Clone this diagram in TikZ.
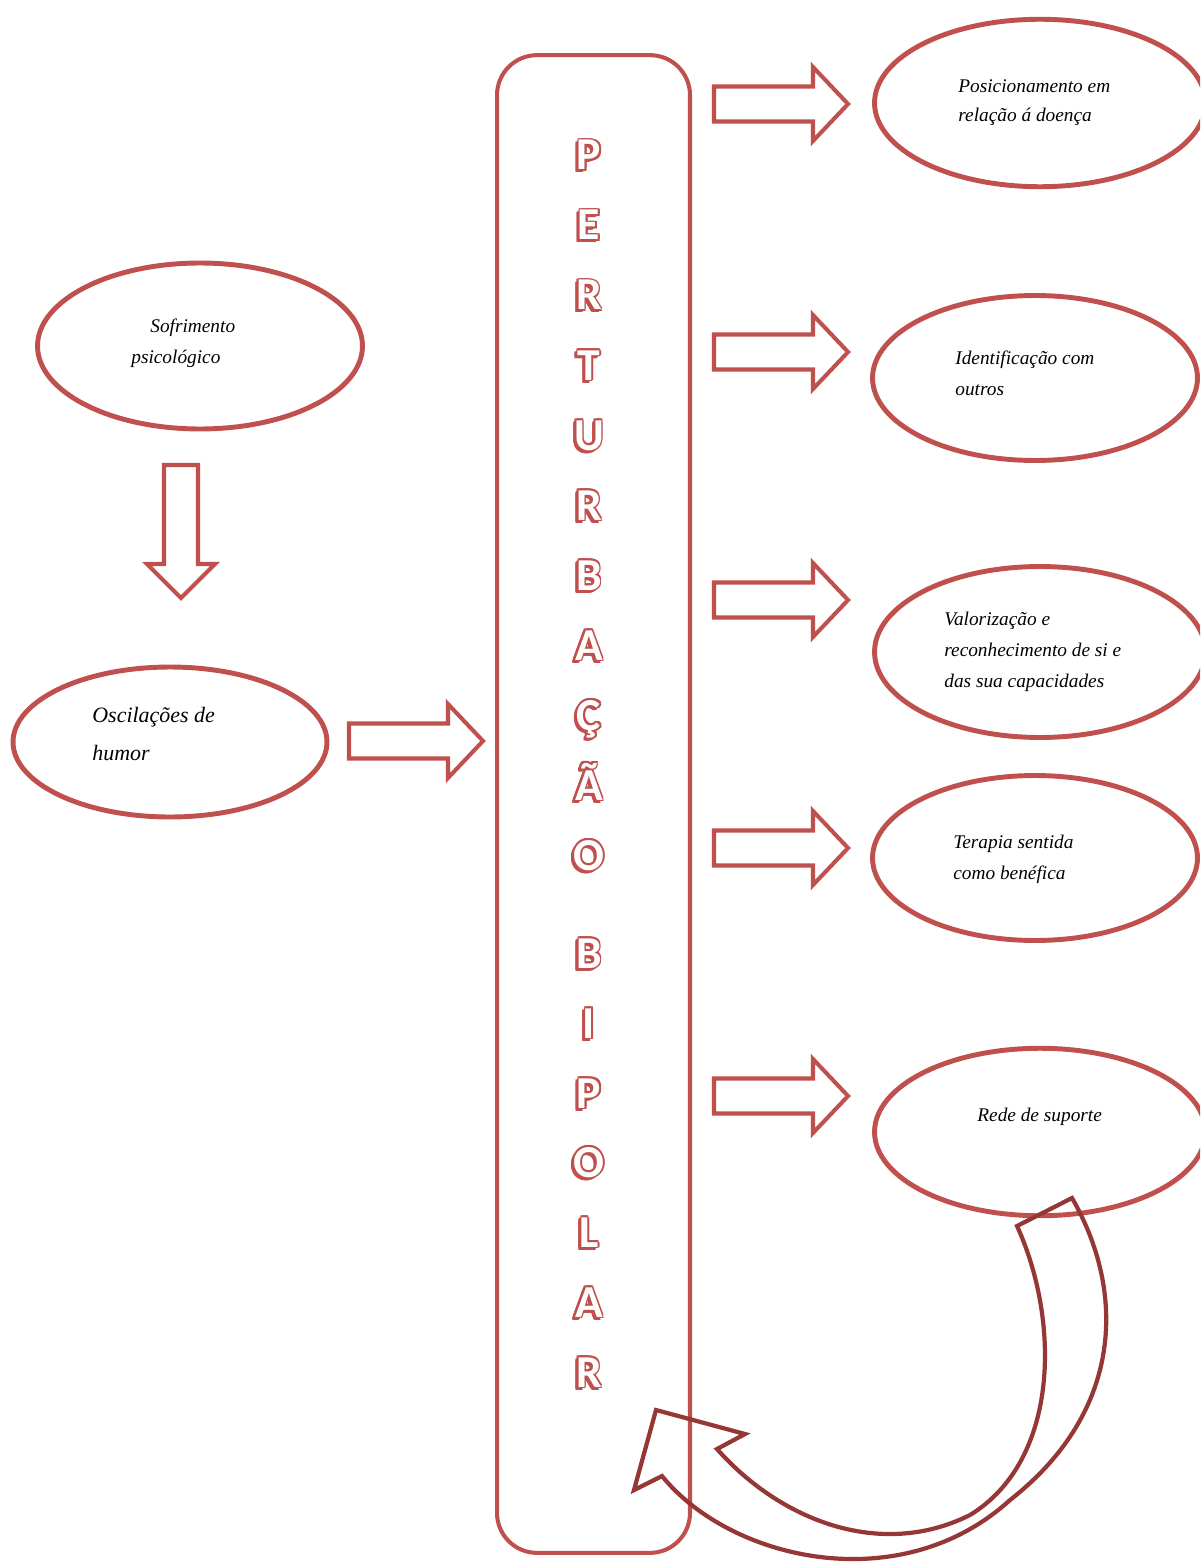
\documentclass[tikz,border=0pt]{standalone}
\usepackage{fontspec}
\setmainfont{Liberation Serif}
\newfontfamily\letfont{Carlito}
\usetikzlibrary{shapes.geometric}
\definecolor{rd}{HTML}{C0504D}
\definecolor{drd}{HTML}{953735}
\newcommand\rarrow[3]{%
  \draw[blk] (#1,#3-17.5) -- (#2-35,#3-17.5) -- (#2-35,#3-37) -- (#2,#3) -- (#2-35,#3+37) -- (#2-35,#3+17.5) -- (#1,#3+17.5) -- cycle;}
\newcommand\olet[3]{%
  \foreach \dx/\dy in {-1.7/0,1.7/0,0/-1.7,0/1.7,-1.2/-1.2,1.2/-1.2,-1.2/1.2,1.2/1.2,-2.7/2.7,-1.9/3,-3/1.9,-2.3/2.3,-3/3}
    {\node[lett,text=rd] at (589+\dx,#2+\dy) {#3};}
  \node[lett,text=white] (#1) at (589,#2) {#3};}
\begin{document}
\begin{tikzpicture}[x=0.02cm,y=-0.02cm,
  oval/.style={ellipse, draw=rd, line width=2.8pt, inner sep=0pt},
  blk/.style={draw=rd, line width=2.3pt, line join=miter},
  lbl/.style={anchor=base west, inner sep=0pt, font=\fontsize{11}{13}\selectfont\itshape},
  lett/.style={inner sep=0pt, anchor=base, font=\letfont\bfseries\fontsize{26}{30}\selectfont}]
\fill[white] (0,0) rectangle (1200,1564);
\useasboundingbox (0,0) rectangle (1200,1564);
\clip (0,0) rectangle (1200,1564);

% ellipses
\node[oval, minimum width=6.62cm, minimum height=3.35cm] (e1) at (1040,103) {};
\node[oval, minimum width=6.5cm, minimum height=3.3cm] (e2) at (1035,378) {};
\node[oval, minimum width=6.62cm, minimum height=3.42cm] (e3) at (1040,652) {};
\node[oval, minimum width=6.5cm, minimum height=3.3cm] (e4) at (1035,858) {};
\node[oval, minimum width=6.62cm, minimum height=3.35cm] (e5) at (1040,1132) {};
\node[oval, minimum width=6.5cm, minimum height=3.32cm] (e6) at (200,346) {};
\node[oval, minimum width=6.28cm, minimum height=3.0cm] (e7) at (170,742) {};

% vertical box
\node[draw=rd, line width=2.3pt, rounded corners=0.8cm, minimum width=3.86cm, minimum height=29.96cm, inner sep=0pt] (box) at (593.5,804) {};

% texts
\node[lbl] (t1a) at (958,93) {Posicionamento em};
\node[lbl] (t1b) at (958,122) {relação á doença};
\node[lbl] (t2a) at (955,364) {Identificação com};
\node[lbl] (t2b) at (955,395) {outros};
\node[lbl] (t3a) at (944,625) {Valorização e};
\node[lbl] (t3b) at (944,656) {reconhecimento de si e};
\node[lbl] (t3c) at (944,687) {das sua capacidades};
\node[lbl] (t4a) at (953,848) {Terapia sentida};
\node[lbl] (t4b) at (953,879) {como benéfica};
\node[lbl] (t5) at (977,1121) {Rede de suporte};
\node[lbl] (t6a) at (150,333) {Sofrimento};
\node[lbl] (t6b) at (131,363) {psicológico};
\node[lbl, font=\fontsize{12.5}{15}\selectfont\itshape] (t7a) at (92,722) {Oscilações de};
\node[lbl, font=\fontsize{12.5}{15}\selectfont\itshape] (t7b) at (92,760) {humor};

% block arrows
\rarrow{714}{848}{104}
\rarrow{714}{848}{352}
\rarrow{714}{848}{600}
\rarrow{714}{848}{848}
\rarrow{714}{848}{1096}
\rarrow{349}{483}{741}
\draw[blk] (164,465) -- (164,564) -- (147,564) -- (181,598) -- (215,564) -- (198,564) -- (198,465) -- cycle;

% letters
\olet{l1}{170}{P}
\olet{l2}{240}{E}
\olet{l3}{310}{R}
\olet{l4}{380}{T}
\olet{l5}{450}{U}
\olet{l6}{520}{R}
\olet{l7}{590}{B}
\olet{l8}{660}{A}
\olet{l9}{730}{Ç}
\olet{l10}{800}{Ã}
\olet{l11}{870}{O}
\olet{l12}{968}{B}
\olet{l13}{1038}{I}
\olet{l14}{1108}{P}
\olet{l15}{1177}{O}
\olet{l16}{1247}{L}
\olet{l17}{1317}{A}
\olet{l18}{1387}{R}

% curved arrow
\draw[drd, line width=2.4pt, line join=miter]
  (1017,1226) -- (1072,1198)
  .. controls (1125,1290) and (1125,1410) .. (1010,1500)
  .. controls (900,1600) and (730,1560) .. (662,1476)
  -- (634,1490) -- (656,1410) -- (745,1434) -- (717,1449)
  .. controls (780,1520) and (880,1560) .. (970,1515)
  .. controls (1060,1460) and (1060,1320) .. (1017,1226) -- cycle;
\end{tikzpicture}
\end{document}
